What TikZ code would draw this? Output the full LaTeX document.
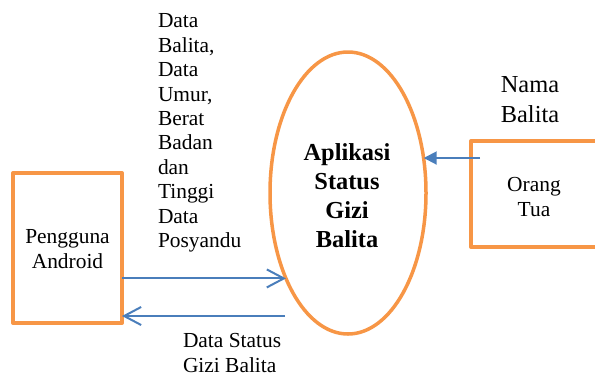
\documentclass[tikz,border=0pt]{standalone}
\usepackage{fontspec}
\setmainfont{Liberation Serif}
\usetikzlibrary{arrows.meta,shapes.geometric}
\definecolor{orng}{HTML}{F79646}
\definecolor{blu}{HTML}{4A7EBB}
\tikzset{
  entity/.style={draw=orng, line width=4bp, line join=round, inner sep=0pt, outer sep=0pt},
  proc/.style={ellipse, draw=orng, line width=3.5bp, inner sep=0pt, outer sep=0pt,
    minimum width=156bp, minimum height=282bp},
  lbl/.style={inner sep=0pt, outer sep=0pt, font=\fontsize{21.5}{24.5}\selectfont},
  bold/.style={inner sep=0pt, outer sep=0pt, align=center, font=\bfseries\fontsize{24.5}{29}\selectfont},
  flow/.style={draw=blu, line width=2bp, -{Straight Barb[length=17bp,width=18bp,line width=2bp]}},
  flowin/.style={draw=blu, line width=2bp, -{Triangle[length=13bp,width=13bp]}}
}
\begin{document}
\begin{tikzpicture}[x=1bp,y=-1bp]
\useasboundingbox (0,0) rectangle (595,377);
\node[entity, minimum width=109bp, minimum height=150bp] (lbox) at (67.5,248) {};
\node[entity, minimum width=127bp, minimum height=106bp] (rbox) at (534.5,194) {};
\node[proc] (ell) at (348,193) {};
\node[lbl, align=center, anchor=base] (tpeng) at (67.5,268) {Pengguna\\Android};
\node[lbl, align=center, anchor=base] (tortu) at (534,216) {Orang\\Tua};
\node[bold, anchor=base] (tapp) at (347,247) {Aplikasi\\Status\\Gizi\\Balita};
\node[lbl, align=left, anchor=base west] (lin) at (158,247.5) {Data\\Balita,\\Data\\Umur,\\Berat\\Badan\\dan\\Tinggi\\Data\\Posyandu};
\node[lbl, align=left, anchor=base west] (lout) at (183,372) {Data Status\\Gizi Balita};
\node[lbl, align=center, anchor=base, font=\fontsize{24.5}{30}\selectfont] (lnama) at (530,122) {Nama\\Balita};
\coordinate (a2s) at (285,316);
\coordinate (a3s) at (480,158);
\draw[flow] (lbox.east |- ell.234.8) -- (ell.234.8);
\draw[flow] (a2s) -- (lbox.east |- a2s);
\draw[flowin] (a3s) -- (ell.24.8 |- a3s);
\end{tikzpicture}
\end{document}
